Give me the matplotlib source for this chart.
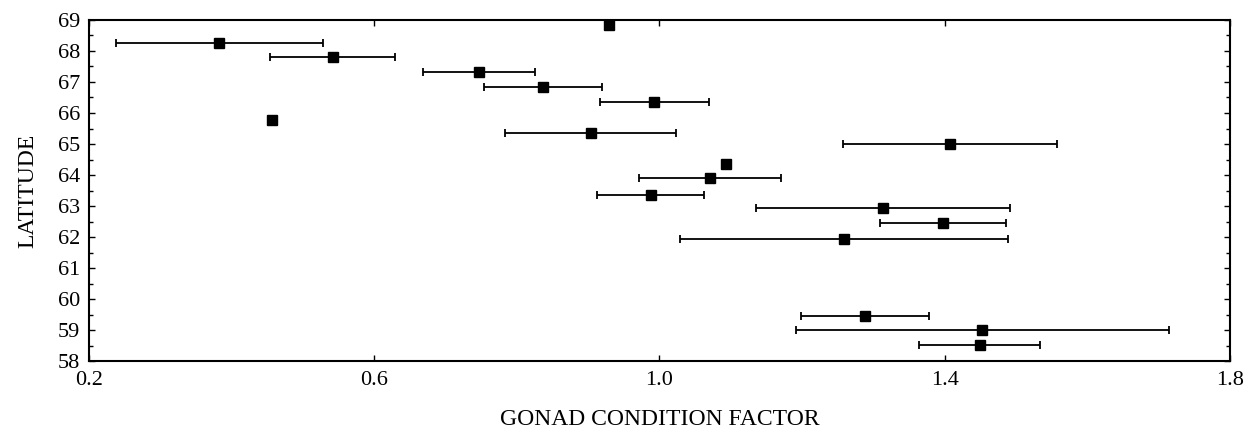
import matplotlib
matplotlib.use("Agg")
import matplotlib.pyplot as plt
import numpy as np
from matplotlib.ticker import MultipleLocator

# Gonad condition factor (x) vs latitude (y), with horizontal error bars
gcf = [0.383, 0.542, 0.457, 0.929, 0.747, 0.837, 0.993, 0.904, 1.094,
       1.071, 0.988, 1.407, 1.313, 1.398, 1.259, 1.288, 1.453, 1.449]
lat = [68.26, 67.80, 65.76, 68.84, 67.32, 66.83, 66.35, 65.34, 64.37,
       63.89, 63.37, 64.99, 62.95, 62.46, 61.94, 59.45, 59.00, 58.51]
gcf_err = [0.145, 0.088, 0.0, 0.0, 0.078, 0.083, 0.076, 0.120, 0.0,
           0.100, 0.075, 0.150, 0.178, 0.088, 0.230, 0.090, 0.261, 0.085]

x_ticks = [0.2, 0.6, 1.0, 1.4, 1.8]
x_tick_labels = ["0.2", "0.6", "1.0", "1.4", "1.8"]

plt.rcParams['font.family'] = ['Liberation Serif', 'DejaVu Serif']

fig = plt.figure(figsize=(12.5, 4.34), dpi=100)
ax = fig.add_axes([0.071, 0.168, 0.913, 0.786])

gcf = np.array(gcf)
lat = np.array(lat)
gcf_err = np.array(gcf_err)
has_err = gcf_err > 0

ax.errorbar(gcf[has_err], lat[has_err], xerr=gcf_err[has_err], fmt='none',
            ecolor='black', elinewidth=1.3, capsize=3, capthick=1.3)
ax.plot(gcf, lat, 's', color='black', markersize=7.5, zorder=3)

ax.set_xlim(0.2, 1.8)
ax.set_ylim(58, 69)
ax.set_xticks(x_ticks)
ax.set_xticklabels(x_tick_labels)
ax.yaxis.set_major_locator(MultipleLocator(1))
ax.yaxis.set_minor_locator(MultipleLocator(0.5))

ax.tick_params(which='both', direction='in', top=True, right=True,
               labelsize=16, width=1)
ax.tick_params(which='major', length=4, pad=6)
ax.tick_params(which='minor', length=3)
ax.tick_params(axis='x', which='major', pad=7)

for s in ax.spines.values():
    s.set_linewidth(1.5)

ax.set_xlabel("GONAD CONDITION FACTOR", fontsize=17, labelpad=14)
ax.set_ylabel("LATITUDE", fontsize=17, labelpad=14)

fig.savefig("out.png", dpi=100)
